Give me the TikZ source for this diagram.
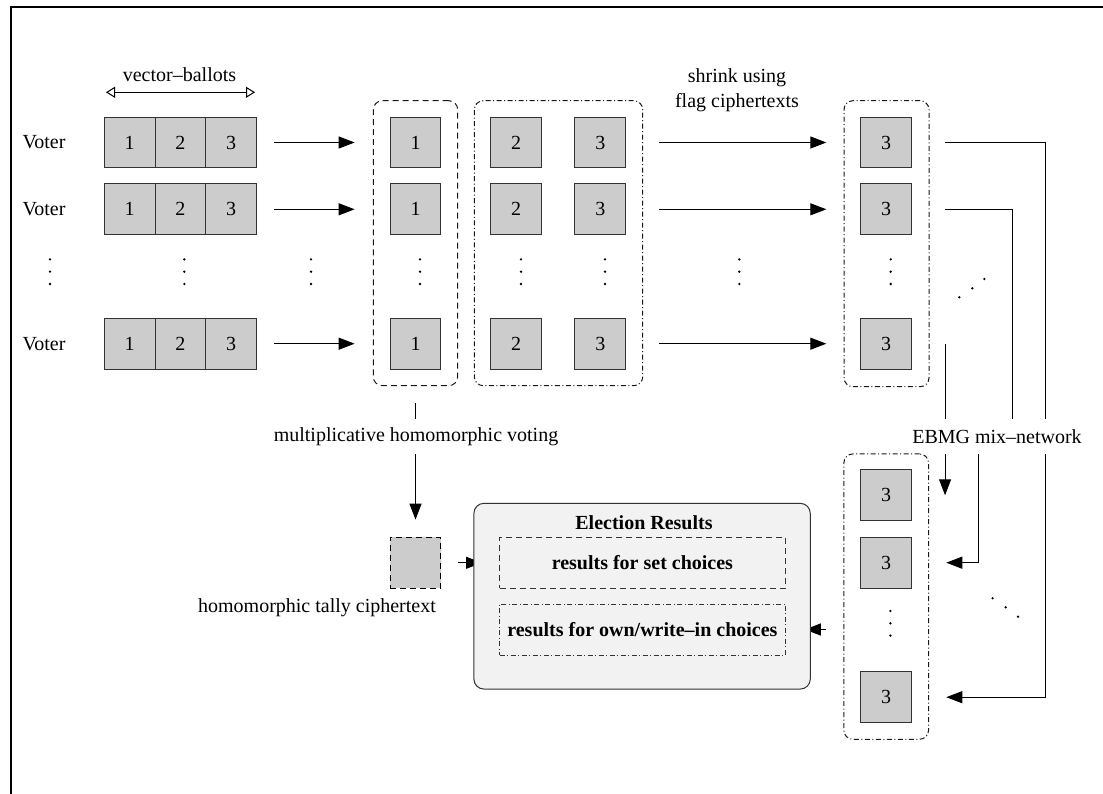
\documentclass[tikz,border=0pt]{standalone}
\usepackage{fontspec}
\setmainfont{Liberation Serif}
\usetikzlibrary{arrows.meta}
\pgfdeclarelayer{wires}
\pgfdeclarelayer{labels}
\pgfsetlayers{wires,labels,main}

\tikzset{
  txt/.style={font=\fontsize{20}{25}\selectfont, inner sep=0pt},
  bold/.style={font=\fontsize{20}{25}\selectfont\bfseries, inner sep=0pt},
  cell/.style={txt, draw=black!80, fill=black!20, line width=1pt,
    minimum width=50.7pt, minimum height=50.7pt},
  dashedline/.style={dash pattern=on 6pt off 4pt},
  dashdotline/.style={dash pattern=on 5pt off 2.5pt on 1pt off 2.5pt},
  grpdash/.style={draw=black!90, line width=1pt, rounded corners=9pt, dashedline, inner sep=0pt},
  grpdot/.style={draw=black!90, line width=1pt, rounded corners=9pt, dashdotline, inner sep=0pt},
  wire/.style={draw=black, line width=1pt},
  arr/.style={wire, -{Triangle[length=16pt,width=12pt]}},
  dimarr/.style={wire, {Triangle[open,length=9pt,width=11pt]}-{Triangle[open,length=9pt,width=11pt]}},
  gap/.style={txt, fill=white, minimum height=34.5pt},
  vd/.pic={\fill (0,-12.3) circle[radius=1.3pt] (0,0) circle[radius=1.3pt] (0,12.3) circle[radius=1.3pt];}
}

\begin{document}
\begin{tikzpicture}[x=1pt,y=-1pt]
\useasboundingbox (0,0) rectangle (1103,794);
% frame (top and left edges)
\draw[line width=2.3pt, line join=miter] (10.7,800) -- (10.7,7.2) -- (1110,7.2);

% vector ballots
\node[txt] (vbl) at (179.5,75) {vector–ballots};
\coordinate (vbL) at (106,92.3);
\coordinate (vbR) at (255,92.3);
\draw[dimarr] (vbL) -- (vbR);

% group boxes
\node[grpdash, minimum width=84.4pt, minimum height=285pt] (g1) at (415.5,243.2) {};
\node[grpdot, minimum width=168.4pt, minimum height=285pt] (g2) at (558.5,243.2) {};
\node[grpdot, minimum width=85pt, minimum height=286pt] (g3) at (886.5,243.7) {};
\node[grpdot, minimum width=84.7pt, minimum height=285.3pt] (g4) at (886.2,596.6) {};

% voters, ballots and ciphertexts
\foreach \r/\y in {1/142.5,2/209.3,3/343.7} {
  \node[txt] (v\r) at (44,\y) {Voter};
  \node[cell] (c\r1) at (129.7,\y) {1};
  \node[cell] (c\r2) at (180.4,\y) {2};
  \node[cell] (c\r3) at (231.1,\y) {3};
  \node[cell] (p\r) at (415.5,\y) {1};
  \node[cell] (q\r) at (516.2,\y) {2};
  \node[cell] (u\r) at (600.3,\y) {3};
  \node[cell] (r\r) at (886.2,\y) {3};
}
\node[cell] (s1) at (886.2,495.3) {3};
\node[cell] (s2) at (886.2,562.7) {3};
\node[cell] (s3) at (886.2,697.2) {3};

% vertical ellipses
\foreach \x in {50,184.3,311,420,521,605,739.3,890.7}
  \pic at (\x,271.7) {vd};
\pic at (890.4,623.3) {vd};
% diagonal ellipses
\fill (959.3,297.3) circle[radius=1.3pt] (972.3,288.3) circle[radius=1.3pt] (984.3,279) circle[radius=1.3pt];
\fill (992.6,598.3) circle[radius=1.3pt] (1005.7,607.3) circle[radius=1.3pt] (1018,616.7) circle[radius=1.3pt];

% tally and results
\node[cell, draw=black, dashedline] (tally) at (415.5,562.8) {};
\node[txt] (htc) at (317,607.7) {homomorphic tally ciphertext};
\node[draw=black!80, fill=black!5, line width=1pt, rounded corners=10pt,
  minimum width=336.4pt, minimum height=185.7pt, inner sep=0pt] (res) at (642.1,596.2) {};
\node[bold] (rest) at (644,522.7) {Election Results};
\node[bold, draw=black!80, line width=1pt, dashedline,
  minimum width=285.8pt, minimum height=51pt] (setc) at (642.4,562.8) {results for set choices};
\node[bold, draw=black!80, line width=1pt, dashdotline,
  minimum width=285.8pt, minimum height=51pt] (own) at (642.4,629.5) {results for own/write–in choices};

\node[txt, align=center] (shr) at (737,90.5) {shrink using\\flag ciphertexts};

% labels that interrupt the wires
\begin{pgfonlayer}{labels}
\node[gap] (mhv) at (416,436.7) {multiplicative homomorphic voting};
\node[gap] (mix) at (997,436.7) {EBMG mix–network};
\end{pgfonlayer}

% connectors
\begin{pgfonlayer}{wires}
\foreach \r in {1,2,3} {
  \draw[arr, shorten <=17.2pt, shorten >=35pt] (c\r3.east) -- (p\r.west);
  \draw[arr, shorten <=33.3pt, shorten >=34pt] (u\r.east) -- (r\r.west);
}
\coordinate (m1) at (1045.7,420);
\draw[arr, shorten <=33.3pt, shorten >=34.2pt] (r1.east) -| (m1) |- (s3.east);
\coordinate (m2a) at (1012,436.7);
\coordinate (m2b) at (978.5,436.7);
\draw[arr, shorten <=33.3pt, shorten >=34.2pt] (r2.east) -| (m2a) -- (m2b) |- (s2.east);
\coordinate (m3a) at ([xshift=33pt]r3.east);
\coordinate (m3b) at ([xshift=33pt]s1.east);
\draw[arr] (m3a) -- (m3b);
\draw[arr, shorten <=17pt, shorten >=17.3pt] (g1.south) -- (tally.north);
\draw[arr, shorten <=17pt, shorten >=17pt] (tally.east) -- (setc.west);
\draw[arr, shorten <=17pt, shorten >=19pt] (g4.west |- own.east) -- (own.east);
\end{pgfonlayer}
\end{tikzpicture}
\end{document}
